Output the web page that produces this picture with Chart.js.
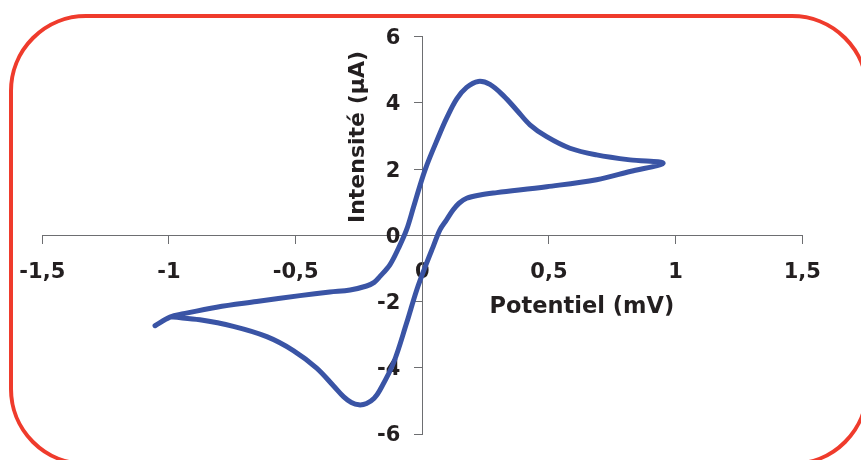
<!DOCTYPE html>
<html>
<head>
<meta charset="utf-8">
<script src="https://cdn.jsdelivr.net/npm/chart.js@4/dist/chart.umd.min.js"></script>
<style>
  html, body { margin: 0; padding: 0; background: #ffffff; }
  #wrap { position: relative; width: 861px; height: 460px; overflow: hidden; }
  #frame { position: absolute; left: 9px; top: 13.5px; width: 860px; height: 452px;
           box-sizing: border-box; border: 4px solid #EF3B2C; border-radius: 77px; pointer-events: none; }
  canvas { position: absolute; left: 0; top: 0; }
</style>
</head>
<body>
<div id="wrap">
  <canvas id="c"></canvas>
  <div id="frame"></div>
</div>
<script>
// ---- data ----
const potential = [
  -1.055, -0.996, -0.943, -0.812, -0.654, -0.483, -0.365, -0.285, -0.22, -0.19, -0.167, -0.128,
  -0.094, -0.062, -0.034, 0.011, 0.07, 0.096, 0.136, 0.175, 0.221, 0.267, 0.32, 0.373, 0.425,
  0.491, 0.583, 0.688, 0.82, 0.951,
  0.82, 0.688, 0.491, 0.294, 0.228, 0.175, 0.145, 0.122, 0.095, 0.07, 0.043, 0.017, -0.022,
  -0.062, -0.114, -0.167, -0.19, -0.22, -0.25, -0.28, -0.31, -0.35, -0.417, -0.509, -0.614,
  -0.746, -0.878, -0.983
];
const intensity = [
  -2.73, -2.47, -2.37, -2.17, -2.00, -1.82, -1.71, -1.65, -1.53, -1.42, -1.24, -0.89,
  -0.39, 0.17, 0.87, 1.98, 3.09, 3.54, 4.12, 4.47, 4.65, 4.56, 4.22, 3.78, 3.34,
  2.98, 2.63, 2.43, 2.28, 2.18,
  1.93, 1.68, 1.47, 1.29, 1.22, 1.12, 0.97, 0.77, 0.46, 0.17, -0.34, -0.84, -1.65,
  -2.65, -3.86, -4.67, -4.92, -5.08, -5.12, -5.05, -4.88, -4.55, -4.01, -3.48, -3.06,
  -2.75, -2.55, -2.47
];
const xRange = [-1.5, 1.5];
const xStep = 0.5;
const yRange = [-6, 6];
const yStep = 2;
const xTitle = 'Potentiel (mV)';
const yTitle = 'Intensité (µA)';

// ---- chart ----
const points = potential.map((v, i) => ({ x: v, y: intensity[i] }));
const FONT = '"DejaVu Sans", sans-serif';
const TEXT = '#231F20';
const AXIS = '#6D6E71';
const fmt = v => String(Math.round(v * 10) / 10).replace('.', ',');

const titlesPlugin = {
  id: 'axisTitles',
  afterDraw(chart) {
    const ctx = chart.ctx;
    const xs = chart.scales.x, ys = chart.scales.y;
    ctx.save();
    ctx.fillStyle = TEXT;
    ctx.font = 'bold 22.5px ' + FONT;
    ctx.textAlign = 'center';
    ctx.textBaseline = 'alphabetic';
    ctx.fillText(xTitle, xs.getPixelForValue(0.63), ys.getPixelForValue(-2.35));
    ctx.restore();
    ctx.save();
    ctx.fillStyle = TEXT;
    ctx.font = 'bold 22px ' + FONT;
    ctx.textAlign = 'center';
    ctx.textBaseline = 'alphabetic';
    ctx.translate(xs.getPixelForValue(-0.23), ys.getPixelForValue(2.97));
    ctx.rotate(-Math.PI / 2);
    ctx.fillText(yTitle, 0, 0);
    ctx.restore();
  }
};

new Chart(document.getElementById('c'), {
  type: 'scatter',
  data: {
    datasets: [{
      data: points,
      showLine: true,
      borderColor: '#3A54A5',
      backgroundColor: '#3A54A5',
      borderWidth: 5,
      borderCapStyle: 'round',
      borderJoinStyle: 'round',
      pointRadius: 0,
      pointHoverRadius: 0,
      tension: 0.35,
      fill: false
    }]
  },
  options: {
    responsive: true,
    maintainAspectRatio: false,
    animation: false,
    events: [],
    layout: { padding: { left: 42.3, right: 58.7, top: 36.7, bottom: 26 } },
    plugins: { legend: { display: false }, tooltip: { enabled: false }, title: { display: false } },
    scales: {
      x: {
        type: 'linear',
        position: { y: 0 },
        min: xRange[0], max: xRange[1],
        grid: { drawOnChartArea: false, drawTicks: true, tickLength: 8, color: AXIS, lineWidth: 1 },
        border: { display: true, color: AXIS, width: 1 },
        ticks: { stepSize: xStep, padding: 17, color: TEXT, font: { family: FONT, size: 21, weight: 'bold' },
                 callback: v => fmt(v), maxRotation: 0, autoSkip: false }
      },
      y: {
        type: 'linear',
        position: { x: 0 },
        min: yRange[0], max: yRange[1],
        grid: { drawOnChartArea: false, drawTicks: true, tickLength: 8, color: AXIS, lineWidth: 1 },
        border: { display: true, color: AXIS, width: 1 },
        ticks: { stepSize: yStep, labelOffset: 2, color: TEXT, font: { family: FONT, size: 21, weight: 'bold' },
                 // the library places centred-axis labels against the axis line; trailing spaces keep the gap
                 callback: v => fmt(v) + '   ', autoSkip: false }
      }
    }
  },
  plugins: [titlesPlugin]
});
</script>
</body>
</html>
